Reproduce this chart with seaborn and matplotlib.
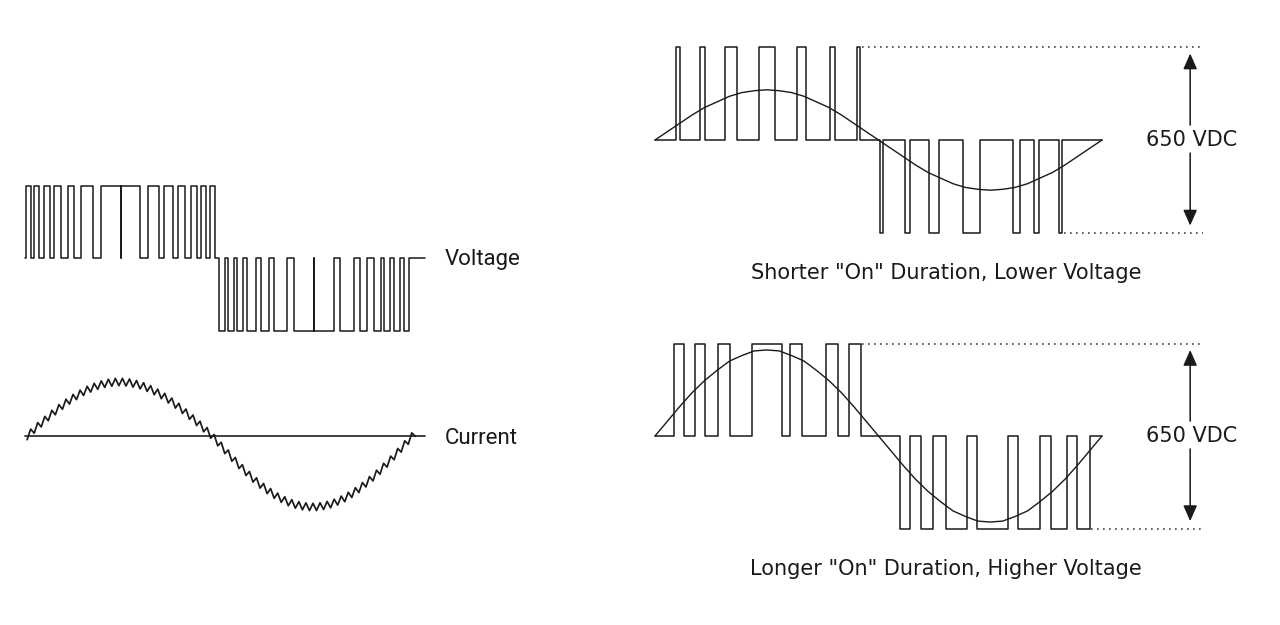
import numpy as np
import pandas as pd
import seaborn as sns
import matplotlib.pyplot as plt

sns.set_style("white")
plt.rcParams["font.family"] = ["DejaVu Sans"]

W, H = 1280, 625
INK = "#1a1a1a"
DOT = "#444444"

# ---------------------------------------------------------------------------
# Data (angles in electrical degrees of one fundamental cycle)
# ---------------------------------------------------------------------------
# Left: PWM voltage pulses (start, end) for the positive and negative half
pwm_pos = [(1, 6), (8, 13), (18, 23), (27, 34), (40, 46), (52, 64), (71, 90),
           (90, 108), (115, 125), (130, 138), (143, 150), (155, 161),
           (165, 169), (173, 178)]
pwm_neg = [(181, 187), (190, 195), (198, 204), (208, 216), (221, 228),
           (233, 245), (252, 270), (270, 289), (295, 308), (313, 320),
           (326, 333), (336, 341), (345, 351), (354, 359)]

# Left: motor current with switching ripple (vertices, evenly spread over cycle)
current = [-0.37, 0.69, 0.28, 1.34, 0.91, 1.96, 1.53, 2.57, 2.12, 3.14,
           2.67, 3.68, 3.19, 4.16, 3.64, 4.59, 4.05, 4.97, 4.39, 5.27,
           4.66, 5.51, 4.86, 5.67, 4.98, 5.76, 5.03, 5.76, 5.00, 5.70,
           4.89, 5.55, 4.71, 5.33, 4.46, 5.04, 4.13, 4.69, 3.74, 4.27,
           3.30, 3.79, 2.79, 3.27, 2.25, 2.70, 1.67, 2.10, 1.05, 1.48,
           0.42, 0.84, -0.22, 0.15, -0.98, -0.63, -1.76, -1.40, -2.52, -2.15,
           -3.25, -2.87, -3.95, -3.55, -4.61, -4.18, -5.21, -4.75, -5.76, -5.26,
           -6.23, -5.71, -6.64, -6.08, -6.97, -6.37, -7.22, -6.57, -7.38, -6.69,
           -7.46, -6.73, -7.45, -6.68, -7.36, -6.54, -7.18, -6.32, -6.91, -6.01,
           -6.57, -5.63, -6.15, -5.17, -5.66, -4.65, -5.10, -4.06, -4.49, -3.42,
           -3.82, -2.73, -3.11, -2.01, -2.37, -1.25, -1.61, -0.48, -0.83, 0.31,
           -0.04]
current_span = (2, 365)

# Right, top: shorter "on" duration
low_pos = [(17, 20), (36, 40), (56, 66), (84, 97), (114, 122), (141, 145), (163, 165)]
low_neg = [(181, 184), (201, 205), (221, 229), (248, 262), (288, 294), (305, 309), (325, 328)]
# Right, bottom: longer "on" duration
high_pos = [(15, 23), (32, 40), (51, 60), (78, 102), (109, 118), (138, 147), (156, 166)]
high_neg = [(197, 205), (214, 224), (234, 251), (259, 284), (292, 310), (319, 332), (340, 350)]

# Resulting average voltage (fraction of the bus), read every 10 degrees
sine_deg = list(range(0, 361, 10))
sine_low = [0, .09, .18, .27, .35, .41, .47, .51, .53, .54, .53, .51, .47, .41,
            .35, .27, .18, .09, 0, -.09, -.18, -.27, -.35, -.41, -.47, -.51,
            -.53, -.54, -.53, -.51, -.47, -.41, -.35, -.27, -.18, -.09, 0]
sine_high = [0, .16, .32, .47, .60, .71, .81, .87, .92, .93, .92, .87, .81, .71,
             .60, .47, .32, .16, 0, -.16, -.32, -.47, -.60, -.71, -.81, -.87,
             -.92, -.93, -.92, -.87, -.81, -.71, -.60, -.47, -.32, -.16, 0]

bus_label = "650 VDC"


def pulse_train(pos, neg, end):
    xs, ys = [0], [0]
    for edges, lvl in ((pos, 1), (neg, -1)):
        for a, b in edges:
            xs += [a, a, b, b]
            ys += [0, lvl, lvl, 0]
    xs.append(end)
    ys.append(0)
    return pd.DataFrame({"deg": xs, "v": ys})


fig = plt.figure(figsize=(W / 100, H / 100), dpi=100)


def panel(px0, px1, py0, py1, x_org, px_deg, y_org, px_unit):
    ax = fig.add_axes([px0 / W, 1 - py1 / H, (px1 - px0) / W, (py1 - py0) / H])
    ax.set_xlim((px0 - x_org) / px_deg, (px1 - x_org) / px_deg)
    ax.set_ylim((y_org - py1) / px_unit, (y_org - py0) / px_unit)
    ax.set_axis_off()
    return ax


def draw(ax, df, lw=1.1):
    sns.lineplot(data=df, x="deg", y="v", sort=False, estimator=None,
                 color=INK, linewidth=lw, ax=ax)


# ---------------------------------------------------------------------------
# Left: voltage + current
# ---------------------------------------------------------------------------
ax_v = panel(10, 440, 165, 350, 25, 1.0694, 258, 72.5)
draw(ax_v, pulse_train(pwm_pos, pwm_neg, 374))

ax_i = panel(10, 440, 355, 530, 25, 1.0694, 436, 10)
ax_i.plot([0, 374], [0, 0], color="#333333", lw=1.3)
cur = pd.DataFrame({"deg": np.linspace(*current_span, len(current)), "v": current})
draw(ax_i, cur, lw=1.25)

fig.text(445 / W, 1 - 259 / H, "Voltage", family=["Roboto", "DejaVu Sans"],
         fontsize=16, ha="left", va="center", color=INK)
fig.text(445 / W, 1 - 439 / H, "Current", family=["Roboto", "DejaVu Sans"],
         fontsize=16, ha="left", va="center", color=INK)

# ---------------------------------------------------------------------------
# Right: two modulation depths
# ---------------------------------------------------------------------------
arrow = dict(arrowstyle="-|>,head_length=0.95,head_width=0.42", color=INK,
             lw=1.1, shrinkA=0, shrinkB=0, mutation_scale=10)


def bus_marker(ax, low_dot_start):
    dots = dict(color=DOT, lw=1.2, ls=(0, (1, 2.6)))
    ax.plot([167, 441], [1, 1], **dots)
    ax.plot([low_dot_start, 441], [-1, -1], **dots)
    ax.annotate("", xy=(431, 0.93), xytext=(431, 0.16), arrowprops=arrow)
    ax.annotate("", xy=(431, -0.92), xytext=(431, -0.14), arrowprops=arrow)
    ax.text(432.5, 0, bus_label, ha="center", va="center", fontsize=15, color=INK)


ax_lo = panel(640, 1270, 30, 250, 655, 1.2417, 140, 93)
draw(ax_lo, pulse_train(low_pos, low_neg, 360))
draw(ax_lo, pd.DataFrame({"deg": sine_deg, "v": sine_low}), lw=1.0)
bus_marker(ax_lo, 329)

ax_hi = panel(640, 1270, 325, 545, 655, 1.2417, 436, 92.5)
draw(ax_hi, pulse_train(high_pos, high_neg, 360))
draw(ax_hi, pd.DataFrame({"deg": sine_deg, "v": sine_high}), lw=1.0)
bus_marker(ax_hi, 351)

fig.text(946 / W, 1 - 273 / H, 'Shorter "On" Duration, Lower Voltage',
         fontsize=15, ha="center", va="center", color=INK)
fig.text(946 / W, 1 - 569 / H, 'Longer "On" Duration, Higher Voltage',
         fontsize=15, ha="center", va="center", color=INK)

fig.savefig("out.png", dpi=100, facecolor="white")
